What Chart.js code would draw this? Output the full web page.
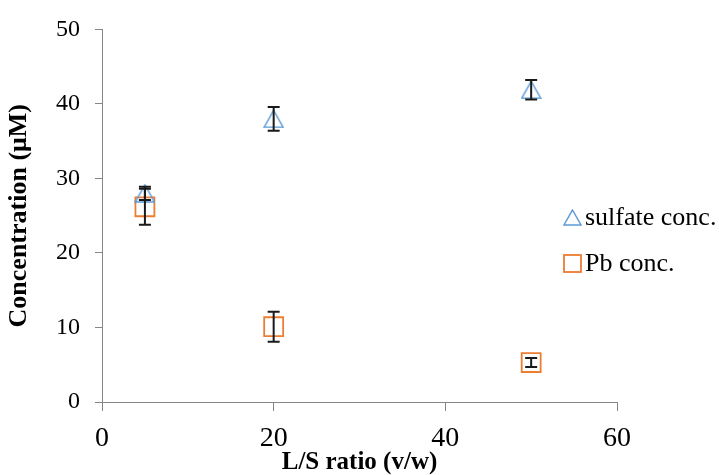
<!DOCTYPE html>
<html>
<head>
<meta charset="utf-8">
<script src="https://cdn.jsdelivr.net/npm/chart.js@4"></script>
<style>
  html, body { margin: 0; padding: 0; background: #fff; }
  #wrap { position: relative; width: 719px; height: 475px; }
  #legend { position: absolute; left: 563px; top: 0; font-family: "Liberation Serif", serif; font-size: 26px; color: #000; }
  .legend-item { position: absolute; left: 0; display: flex; align-items: center; white-space: nowrap; height: 30px; }
  .legend-item svg { margin-right: 3px; }
</style>
</head>
<body>
<div id="wrap">
  <canvas id="chart" width="719" height="475"></canvas>
  <div id="legend"></div>
</div>
<script>
const lsRatio = [5, 20, 50];
const sulfateConc = [28.0, 38.0, 41.9];
const sulfateErr = [0.9, 1.6, 1.3];
const pbConc = [26.2, 10.1, 5.3];
const pbErr = [2.4, 2.0, 0.6];

const xTicks = [0, 20, 40, 60];
const yTicks = [0, 10, 20, 30, 40, 50];

const seriesNames = ["sulfate conc.", "Pb conc."];
const blue = "#5b9bd5";
const orange = "#ed7d31";
const axisGrey = "#868686";

// triangle marker centred on its bounding box, like the spreadsheet one
function triangleMarker() {
  const c = document.createElement("canvas");
  c.width = 21;
  c.height = 19;
  const ctx = c.getContext("2d");
  ctx.strokeStyle = blue;
  ctx.lineWidth = 1.5;
  ctx.beginPath();
  ctx.moveTo(10.5, 1);
  ctx.lineTo(20, 18);
  ctx.lineTo(1, 18);
  ctx.closePath();
  ctx.stroke();
  return c;
}

const errorBars = {
  id: "errorBars",
  afterDatasetsDraw(chart) {
    const { ctx, scales } = chart;
    ctx.save();
    ctx.strokeStyle = "#1a1a1a";
    ctx.lineWidth = 2;
    chart.data.datasets.forEach((ds) => {
      ds.data.forEach((pt, i) => {
        const x = scales.x.getPixelForValue(pt.x);
        const top = scales.y.getPixelForValue(pt.y + ds.errors[i]);
        const bottom = scales.y.getPixelForValue(pt.y - ds.errors[i]);
        ctx.beginPath();
        ctx.moveTo(x, top);
        ctx.lineTo(x, bottom);
        ctx.moveTo(x - 6, top);
        ctx.lineTo(x + 6, top);
        ctx.moveTo(x - 6, bottom);
        ctx.lineTo(x + 6, bottom);
        ctx.stroke();
      });
    });
    ctx.restore();
  },
};

const toPoints = (ys) => lsRatio.map((x, i) => ({ x, y: ys[i] }));

new Chart(document.querySelector("#chart"), {
  type: "scatter",
  data: {
    datasets: [
      {
        label: seriesNames[0],
        data: toPoints(sulfateConc),
        errors: sulfateErr,
        pointStyle: triangleMarker(),
        borderColor: blue,
        backgroundColor: "transparent",
      },
      {
        label: seriesNames[1],
        data: toPoints(pbConc),
        errors: pbErr,
        pointStyle: "rect",
        pointRadius: 13.4,
        borderColor: orange,
        borderWidth: 1.8,
        backgroundColor: "transparent",
      },
    ],
  },
  options: {
    responsive: false,
    animation: false,
    layout: {
      padding: { left: 0, top: 26, right: 102, bottom: 0 },
    },
    plugins: {
      legend: { display: false },
      tooltip: { enabled: false },
    },
    scales: {
      x: {
        type: "linear",
        min: 0,
        max: 60,
        afterFit: (scale) => { scale.height = 73; },
        afterBuildTicks: (scale) => { scale.ticks = xTicks.map((v) => ({ value: v })); },
        grid: { drawOnChartArea: false, drawTicks: true, tickLength: 9, color: axisGrey },
        border: { color: axisGrey },
        ticks: {
          color: "#000",
          padding: 11,
          maxRotation: 0,
          font: { family: "Liberation Serif", size: 28 },
        },
        title: {
          display: true,
          text: "L/S ratio (v/w)",
          color: "#000",
          padding: { top: 0, bottom: 0 },
          font: { family: "Liberation Serif", size: 25, weight: "bold", lineHeight: 1 },
        },
      },
      y: {
        type: "linear",
        min: 0,
        max: 50,
        afterFit: (scale) => { scale.width = 102; },
        afterBuildTicks: (scale) => { scale.ticks = yTicks.map((v) => ({ value: v })); },
        grid: { drawOnChartArea: false, drawTicks: true, tickLength: 7, color: axisGrey },
        border: { color: axisGrey },
        ticks: {
          color: "#000",
          padding: 15,
          font: { family: "Liberation Serif", size: 24 },
        },
        title: {
          display: true,
          text: "Concentration (μM)",
          color: "#000",
          padding: { top: 6, bottom: 0 },
          font: { family: "Liberation Serif", size: 26, weight: "bold", lineHeight: 1 },
        },
      },
    },
  },
  plugins: [errorBars],
});

const legend = document.querySelector("#legend");
const markers = [
  `<svg width="19" height="17"><path d="M9.5 1 L18 16 L1 16 Z" fill="none" stroke="${blue}" stroke-width="1.5"/></svg>`,
  `<svg width="19" height="19"><rect x="1" y="1" width="17" height="17" fill="none" stroke="${orange}" stroke-width="1.8"/></svg>`,
];
const legendTops = [202, 248];
seriesNames.forEach((name, i) => {
  const item = document.createElement("div");
  item.className = "legend-item";
  item.style.top = `${legendTops[i]}px`;
  item.innerHTML = `${markers[i]}<span>${name}</span>`;
  legend.appendChild(item);
});
</script>
</body>
</html>
